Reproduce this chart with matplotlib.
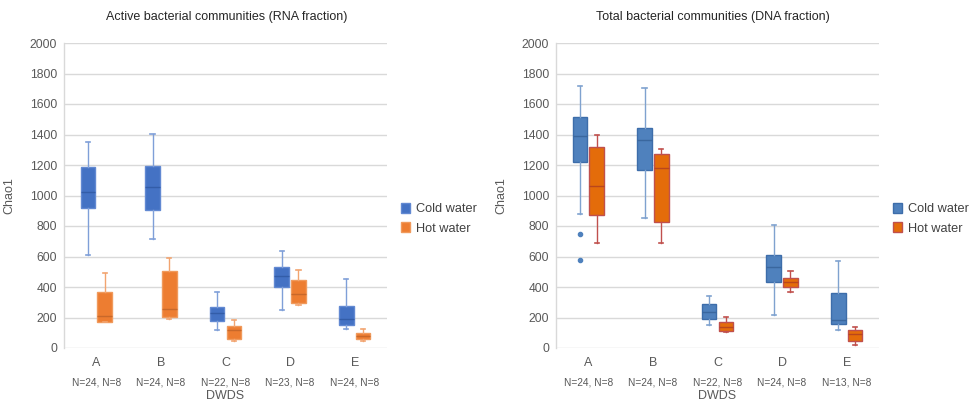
import matplotlib
matplotlib.use("Agg")
import matplotlib.pyplot as plt
from matplotlib.patches import Patch

plt.rcParams['font.family'] = ['Liberation Sans', 'DejaVu Sans']

categories = ["A", "B", "C", "D", "E"]
n_labels_rna = ["N=24, N=8", "N=24, N=8", "N=22, N=8", "N=23, N=8", "N=24, N=8"]
n_labels_dna = ["N=24, N=8", "N=24, N=8", "N=22, N=8", "N=24, N=8", "N=13, N=8"]

# RNA fraction: [whisker low, Q1, median, Q3, whisker high]
rna_cold_low = [610, 713, 120, 249, 123]
rna_cold_q1 = [920, 903, 179, 400, 153]
rna_cold_med = [1021, 1054, 227, 472, 192]
rna_cold_q3 = [1185, 1193, 271, 529, 275]
rna_cold_high = [1353, 1401, 369, 638, 455]

rna_hot_low = [168, 192, 48, 282, 46]
rna_hot_q1 = [173, 205, 61, 297, 61]
rna_hot_med = [212, 254, 118, 352, 79]
rna_hot_q3 = [367, 505, 144, 446, 96]
rna_hot_high = [490, 590, 181, 511, 123]

# DNA fraction
dna_cold_low = [877, 854, 148, 218, 116]
dna_cold_q1 = [1220, 1167, 190, 435, 157]
dna_cold_med = [1392, 1364, 234, 533, 182]
dna_cold_q3 = [1515, 1444, 287, 610, 359]
dna_cold_high = [1720, 1707, 341, 809, 572]
dna_cold_fliers = [[746, 577], [], [], [], []]

dna_hot_low = [690, 690, 105, 367, 18]
dna_hot_q1 = [872, 826, 113, 402, 48]
dna_hot_med = [1064, 1178, 136, 431, 90]
dna_hot_q3 = [1320, 1270, 172, 457, 116]
dna_hot_high = [1397, 1307, 201, 505, 138]

yticks = list(range(0, 2001, 200))

W, H = 970, 409
fig = plt.figure(figsize=(W / 100, H / 100), dpi=100)

def make_stats(lo, q1, med, q3, hi, fliers=None):
    out = []
    for i in range(len(lo)):
        out.append(dict(whislo=lo[i], q1=q1[i], med=med[i], q3=q3[i], whishi=hi[i],
                        fliers=(fliers[i] if fliers else [])))
    return out

def draw_panel(left_px, title, title_x, nlabels, cold, hot, cold_style, hot_style):
    ax = fig.add_axes([left_px / W, 1 - 348 / H, 323 / W, 305 / H])
    ax.set_xlim(-0.5, 4.5)
    ax.set_ylim(0, 2000)
    ax.set_yticks(yticks)
    ax.set_yticklabels([str(t) for t in yticks])
    ax.tick_params(axis='y', length=0, pad=5, labelsize=8.7, labelcolor='#595959')
    ax.set_xticks([])
    ax.grid(axis='y', color='#d9d9d9', linewidth=1.0)
    ax.set_axisbelow(True)
    for s in ['top', 'right', 'bottom']:
        ax.spines[s].set_visible(False)
    ax.spines['left'].set_color('#d9d9d9')
    ax.spines['left'].set_linewidth(1.0)
    pos = list(range(len(categories)))
    for stats, off, st in [(cold, -0.13, cold_style), (hot, 0.13, hot_style)]:
        ax.bxp(stats, positions=[p + off for p in pos], widths=0.225, patch_artist=True,
               manage_ticks=False,
               boxprops=dict(facecolor=st['fill'], edgecolor=st['edge'], linewidth=1.0),
               medianprops=dict(color=st['median'], linewidth=1.0),
               whiskerprops=dict(color=st['whisker'], linewidth=1.0),
               capprops=dict(color=st['whisker'], linewidth=1.2),
               capwidths=0.065,
               flierprops=dict(marker='o', markersize=3, markerfacecolor=st['fill'],
                               markeredgecolor=st['fill']))
    tr = ax.get_xaxis_transform()
    for i, c in enumerate(categories):
        ax.text(i, -0.048, c, transform=tr, ha='center', va='center', fontsize=9, color='#595959')
        ax.text(i, -0.114, nlabels[i], transform=tr, ha='center', va='center', fontsize=7.3, color='#595959')
    ax.text(2, -0.157, "DWDS", transform=tr, ha='center', va='center', fontsize=9, color='#595959')
    ax.text(title_x, 1.086, title, transform=ax.transAxes, ha='center', va='center', fontsize=9, color='#262626')
    ax.set_ylabel("Chao1", fontsize=9, color='#595959')
    ax.yaxis.set_label_coords(-0.152, 0.5)
    handles = [Patch(facecolor=cold_style['fill'], edgecolor=cold_style['edge'], label='Cold water'),
               Patch(facecolor=hot_style['fill'], edgecolor=hot_style['edge'], label='Hot water')]
    ax.legend(handles=handles, loc='center left', bbox_to_anchor=(1.043, 0.423), frameon=False,
              borderpad=0, borderaxespad=0, handlelength=0.75, handleheight=0.75,
              handletextpad=0.4, labelspacing=0.55, fontsize=9.2, labelcolor='#404040')
    return ax

rna_cold_style = dict(fill='#4472C4', edge='#6289D2', median='#335DA8', whisker='#7F9FD8')
rna_hot_style = dict(fill='#ED7D31', edge='#F09A5C', median='#C8682A', whisker='#F2A470')
dna_cold_style = dict(fill='#4F81BD', edge='#3D6DAA', median='#3A679E', whisker='#7FA2CF')
dna_hot_style = dict(fill='#E46C0A', edge='#C0504D', median='#B9461C', whisker='#C0504D')

draw_panel(64, "Active bacterial communities (RNA fraction)", 0.505, n_labels_rna,
           make_stats(rna_cold_low, rna_cold_q1, rna_cold_med, rna_cold_q3, rna_cold_high),
           make_stats(rna_hot_low, rna_hot_q1, rna_hot_med, rna_hot_q3, rna_hot_high),
           rna_cold_style, rna_hot_style)
draw_panel(556, "Total bacterial communities (DNA fraction)", 0.485, n_labels_dna,
           make_stats(dna_cold_low, dna_cold_q1, dna_cold_med, dna_cold_q3, dna_cold_high, dna_cold_fliers),
           make_stats(dna_hot_low, dna_hot_q1, dna_hot_med, dna_hot_q3, dna_hot_high),
           dna_cold_style, dna_hot_style)

fig.savefig("out.png", dpi=100, facecolor='white')
